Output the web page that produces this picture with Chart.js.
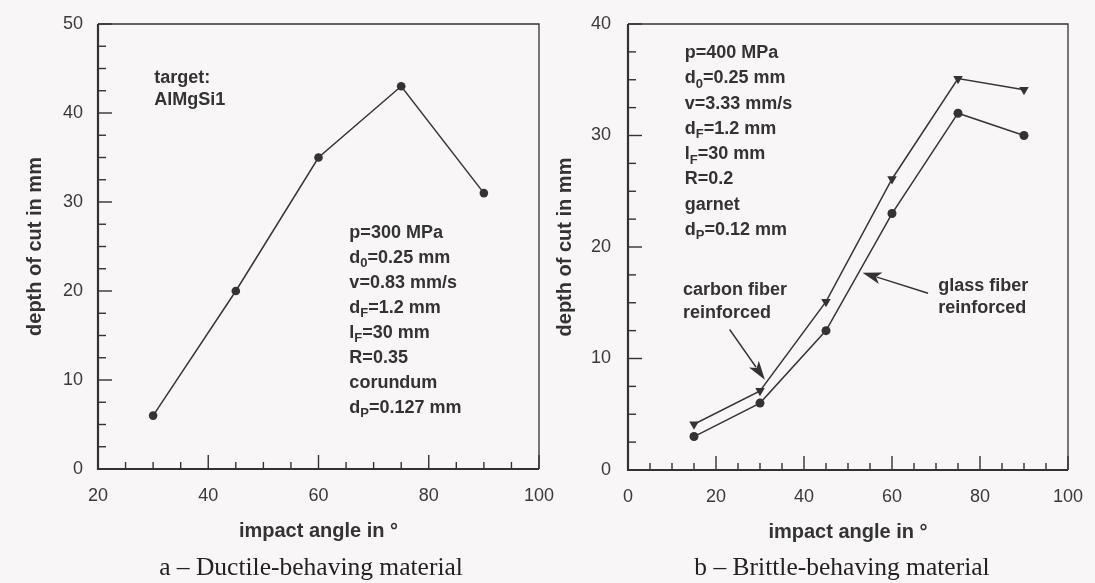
<!DOCTYPE html>
<html><head><meta charset="utf-8">
<script src="https://cdn.jsdelivr.net/npm/chart.js@4.4.1/dist/chart.umd.min.js"></script>
<style>
html,body{margin:0;padding:0;background:#f8f6f7;}
body{width:1095px;height:583px;position:relative;overflow:hidden;}
.wrap{position:absolute;top:0;height:583px;}
#wa{left:0;width:560px;}
#wb{left:540px;width:555px;}
.cap{position:absolute;top:567px;font-family:"Liberation Serif","Times New Roman",serif;font-size:25.5px;color:#222;white-space:nowrap;transform:translate(-50%,-50%);}
</style></head><body>
<div class="wrap" id="wa"><canvas id="ca"></canvas></div>
<div class="wrap" id="wb"><canvas id="cb"></canvas></div>
<div class="cap" style="left:311px">a – Ductile-behaving material</div>
<div class="cap" style="left:842px">b – Brittle-behaving material</div>
<script>
// ---- data ----
const ANGLE_A = [30, 45, 60, 75, 90];
const DEPTH_A = [6, 20, 35, 43, 31];
const ANGLE_B = [15, 30, 45, 60, 75, 90];
const DEPTH_B_CARBON = [4.1, 7.1, 15.1, 26.1, 35.1, 34.1];
const DEPTH_B_GLASS = [3, 6, 12.5, 23, 32, 30];
const X_RANGE_A = [20, 100], Y_RANGE_A = [0, 50];
const X_RANGE_B = [0, 100], Y_RANGE_B = [0, 40];
const X_TITLE = 'impact angle in °';
const Y_TITLE = 'depth of cut in mm';
const NOTES_A_TARGET = ['target:', 'AlMgSi1'];
const NOTES_A_PARAMS = ['p=300 MPa', 'd_0=0.25 mm', 'v=0.83 mm/s', 'd_F=1.2 mm', 'l_F=30 mm', 'R=0.35', 'corundum', 'd_P=0.127 mm'];
const NOTES_B_PARAMS = ['p=400 MPa', 'd_0=0.25 mm', 'v=3.33 mm/s', 'd_F=1.2 mm', 'l_F=30 mm', 'R=0.2', 'garnet', 'd_P=0.12 mm'];
const NOTES_B_CARBON = ['carbon fiber', 'reinforced'];
const NOTES_B_GLASS = ['glass fiber', 'reinforced'];

const FAM = '"Liberation Sans", Arial, Helvetica, sans-serif';
const INK = '#333';

function pts(xs, ys) { return xs.map((x, i) => ({x: x, y: ys[i]})); }

function drawRich(ctx, str, x, y, size) {
  const segs = [];
  for (let i = 0; i < str.length; i++) {
    if (str[i] === '_') { segs.push({t: str[i + 1], sub: true}); i++; }
    else {
      if (!segs.length || segs[segs.length - 1].sub) segs.push({t: '', sub: false});
      segs[segs.length - 1].t += str[i];
    }
  }
  let cx = x;
  for (const s of segs) {
    const fs = s.sub ? Math.round(size * 0.72) : size;
    ctx.font = 'bold ' + fs + 'px ' + FAM;
    ctx.fillText(s.t, cx, s.sub ? y + size * 0.32 : y);
    cx += ctx.measureText(s.t).width;
  }
}

const deco = {
  id: 'deco',
  beforeDatasetsDraw(chart, args, o) {
    const {ctx, chartArea: a, scales: {x, y}} = chart;
    ctx.save();
    ctx.strokeStyle = INK;
    ctx.lineWidth = 1.3;
    ctx.beginPath();
    ctx.moveTo(a.left, a.top); ctx.lineTo(a.right, a.top); ctx.lineTo(a.right, a.bottom);
    ctx.stroke();
    ctx.lineWidth = 2.2;
    ctx.beginPath();
    ctx.moveTo(a.left, a.top); ctx.lineTo(a.left, a.bottom); ctx.lineTo(a.right, a.bottom);
    ctx.stroke();
    ctx.lineWidth = 1.4;
    const isMajor = (v, step) => Math.abs(v / step - Math.round(v / step)) < 1e-6;
    for (let v = x.min; v <= x.max + 1e-9; v += o.xMinor) {
      const px = x.getPixelForValue(v), len = isMajor(v, o.xMajor) ? 14 : 7;
      ctx.beginPath(); ctx.moveTo(px, a.bottom); ctx.lineTo(px, a.bottom - len); ctx.stroke();
    }
    for (let v = y.min; v <= y.max + 1e-9; v += o.yMinor) {
      const py = y.getPixelForValue(v), len = isMajor(v, o.yMajor) ? 14 : 8;
      ctx.beginPath(); ctx.moveTo(a.left, py); ctx.lineTo(a.left + len, py); ctx.stroke();
    }
    ctx.restore();
  },
  afterDatasetsDraw(chart, args, o) {
    const {ctx, scales: {x, y}} = chart;
    ctx.save();
    ctx.fillStyle = INK;
    ctx.textBaseline = 'middle';
    ctx.textAlign = 'left';
    for (const b of (o.blocks || [])) {
      const px = x.getPixelForValue(b.x), py = y.getPixelForValue(b.y);
      b.lines.forEach((l, i) => drawRich(ctx, l, px, py + i * b.lh, 18));
    }
    for (const ar of (o.arrows || [])) {
      const x0 = x.getPixelForValue(ar.from[0]), y0 = y.getPixelForValue(ar.from[1]);
      const x1 = x.getPixelForValue(ar.to[0]), y1 = y.getPixelForValue(ar.to[1]);
      const ang = Math.atan2(y1 - y0, x1 - x0), L = 19, W = 6;
      ctx.strokeStyle = INK; ctx.lineWidth = 1.4;
      ctx.beginPath(); ctx.moveTo(x0, y0);
      ctx.lineTo(x1 - Math.cos(ang) * L * 0.8, y1 - Math.sin(ang) * L * 0.8); ctx.stroke();
      ctx.beginPath();
      ctx.moveTo(x1, y1);
      ctx.lineTo(x1 - Math.cos(ang) * L - Math.sin(ang) * W, y1 - Math.sin(ang) * L + Math.cos(ang) * W);
      ctx.lineTo(x1 - Math.cos(ang) * L * 0.75, y1 - Math.sin(ang) * L * 0.75);
      ctx.lineTo(x1 - Math.cos(ang) * L + Math.sin(ang) * W, y1 - Math.sin(ang) * L - Math.cos(ang) * W);
      ctx.closePath(); ctx.fill();
    }
    ctx.restore();
  }
};

function lineSet(data, style, r, rot) {
  return {
    data: data, borderColor: '#363636', borderWidth: 1.5, tension: 0,
    pointStyle: style, pointRadius: r, pointRotation: rot || 0,
    pointBackgroundColor: '#333', pointBorderColor: '#333', pointBorderWidth: 0
  };
}

function makeChart(id, c) {
  return new Chart(document.getElementById(id), {
    type: 'line',
    data: {datasets: c.datasets},
    options: {
      responsive: true, maintainAspectRatio: false, animation: false,
      layout: {padding: {top: c.padTop, right: c.padRight, bottom: c.padBottom, left: 0}},
      plugins: {legend: {display: false}, tooltip: {enabled: false}, deco: c.deco},
      scales: {
        x: {
          type: 'linear', min: c.xr[0], max: c.xr[1],
          ticks: {stepSize: 20, padding: 16, color: '#3a3a3a', font: {family: FAM, size: 18}, maxRotation: 0, autoSkip: false},
          grid: {display: false, drawTicks: false}, border: {display: false},
          title: {display: true, text: X_TITLE, color: INK, font: {family: FAM, size: 20, weight: 'bold'}, padding: 0},
          afterFit: s => { s.height = 74; s.paddingLeft = 0; s.paddingRight = 0; }
        },
        y: {
          type: 'linear', min: c.yr[0], max: c.yr[1],
          ticks: {stepSize: 10, padding: c.yPad, color: '#3a3a3a', font: {family: FAM, size: 18}},
          grid: {display: false, drawTicks: false}, border: {display: false},
          title: {display: true, text: Y_TITLE, color: INK, font: {family: FAM, size: 20, weight: 'bold'}, padding: {top: c.yTitlePad, bottom: 0}},
          afterFit: s => { s.width = c.yW; s.paddingTop = 0; s.paddingBottom = 0; }
        }
      }
    },
    plugins: [deco]
  });
}

makeChart('ca', {
  xr: X_RANGE_A, yr: Y_RANGE_A, yW: 98, yPad: 15, yTitlePad: 23, padTop: 24, padRight: 21, padBottom: 40,
  datasets: [lineSet(pts(ANGLE_A, DEPTH_A), 'circle', 4.3)],
  deco: {
    xMajor: 20, xMinor: 5, yMajor: 10, yMinor: 2.5,
    blocks: [
      {x: 30.2, y: 43.9, lh: 22, lines: NOTES_A_TARGET},
      {x: 65.6, y: 26.5, lh: 25, lines: NOTES_A_PARAMS}
    ]
  }
});

makeChart('cb', {
  xr: X_RANGE_B, yr: Y_RANGE_B, yW: 88, yPad: 17, yTitlePad: 13, padTop: 24, padRight: 27, padBottom: 39,
  datasets: [
    lineSet(pts(ANGLE_B, DEPTH_B_CARBON), 'triangle', 5.5, 180),
    lineSet(pts(ANGLE_B, DEPTH_B_GLASS), 'circle', 4.5)
  ],
  deco: {
    xMajor: 20, xMinor: 5, yMajor: 10, yMinor: 2.5,
    blocks: [
      {x: 12.9, y: 37.4, lh: 25.3, lines: NOTES_B_PARAMS},
      {x: 12.5, y: 16.1, lh: 23, lines: NOTES_B_CARBON},
      {x: 70.5, y: 16.5, lh: 22, lines: NOTES_B_GLASS}
    ],
    arrows: [
      {from: [23.1, 12.6], to: [31.1, 8.1]},
      {from: [68.2, 15.85], to: [53.3, 17.7]}
    ]
  }
});
</script>
</body></html>
